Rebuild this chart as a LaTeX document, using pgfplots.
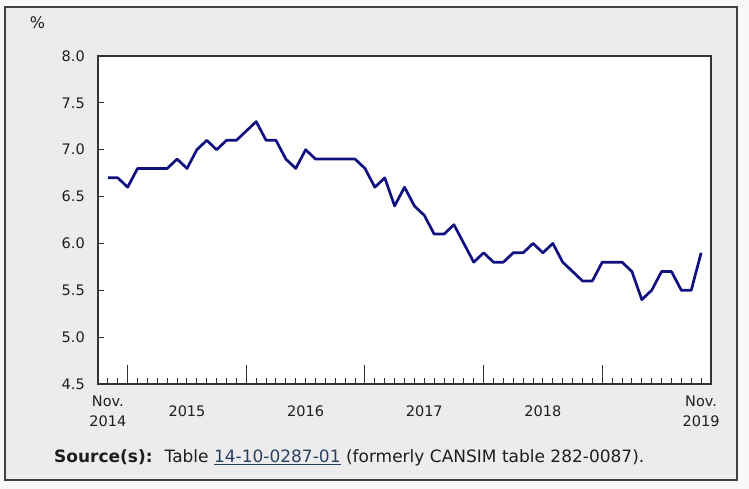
\documentclass[border=0pt]{standalone}
\usepackage{pgfplots}
\pgfplotsset{compat=1.18}
\usepackage{fontspec}
\setmainfont{DejaVu Sans}
\definecolor{navyline}{RGB}{16,16,128}
\definecolor{boxfill}{RGB}{236,236,236}
\definecolor{outerbg}{RGB}{248,248,248}
\definecolor{linkblue}{RGB}{40,65,98}
\definecolor{txt}{RGB}{30,30,30}
\begin{document}
\begin{tikzpicture}[x=1bp,y=1bp]
\fill[outerbg] (0,0) rectangle (749,489);
\draw[draw=black!75, line width=1.2bp, fill=boxfill] (5,9) rectangle (737,482);
\node[anchor=center, font=\fontsize{16bp}{18bp}\selectfont, text=txt] at (37.5,466) {\%};
\node[anchor=west, inner sep=0, font=\fontsize{17bp}{19bp}\selectfont, text=txt] at (54,31)
  {\textbf{Source(s):}\hspace{12bp}Table \textcolor{linkblue}{\underline{14-10-0287-01}} (formerly CANSIM table 282-0087).};
\begin{axis}[
  at={(98bp,105bp)}, anchor=south west,
  scale only axis, width=613bp, height=328bp,
  xmin=-1, xmax=61, ymin=4.5, ymax=8,
  axis background/.style={fill=white},
  axis line style={black!80, line width=1.2bp},
  ytick={4.5,5,5.5,6,6.5,7,7.5,8},
  ytick pos=left, xtick pos=bottom,
  tick align=inside,
  major tick length=6bp, minor tick length=6bp,
  tick style={black!80, line width=1bp},
  yticklabel style={anchor=east, inner sep=0, xshift=-13bp, font=\fontsize{14.5bp}{16bp}\selectfont, text=txt,
    /pgf/number format/.cd, fixed, fixed zerofill, precision=1, assume math mode=true},
  xtick={2,14,26,38,50},
  xticklabels={},
  xtick style={/pgfplots/major tick length=19bp},
  minor xtick={0,1,3,4,5,6,7,8,9,10,11,12,13,15,16,17,18,19,20,21,22,23,24,25,27,28,29,30,31,32,33,34,35,36,37,39,40,41,42,43,44,45,46,47,48,49,51,52,53,54,55,56,57,58,59,60},
  extra x ticks={0,8,20,32,44,60},
  extra x tick labels={Nov.\\2014,\mbox{}\\2015,\mbox{}\\2016,\mbox{}\\2017,\mbox{}\\2018,Nov.\\2019},
  extra x tick style={major tick length=0pt, tick style={draw=none},
    xticklabel style={anchor=north, inner sep=0, yshift=-12bp, align=center,
      font=\fontsize{14.5bp}{20bp}\selectfont, text=txt}},
  clip=false,
]
\addplot[navyline, line width=2.7bp, line join=round] coordinates {
(0,6.7)(1,6.7)(2,6.6)(3,6.8)(4,6.8)(5,6.8)(6,6.8)(7,6.9)(8,6.8)(9,7.0)
(10,7.1)(11,7.0)(12,7.1)(13,7.1)(14,7.2)(15,7.3)(16,7.1)(17,7.1)(18,6.9)(19,6.8)
(20,7.0)(21,6.9)(22,6.9)(23,6.9)(24,6.9)(25,6.9)(26,6.8)(27,6.6)(28,6.7)(29,6.4)
(30,6.6)(31,6.4)(32,6.3)(33,6.1)(34,6.1)(35,6.2)(36,6.0)(37,5.8)(38,5.9)(39,5.8)
(40,5.8)(41,5.9)(42,5.9)(43,6.0)(44,5.9)(45,6.0)(46,5.8)(47,5.7)(48,5.6)(49,5.6)
(50,5.8)(51,5.8)(52,5.8)(53,5.7)(54,5.4)(55,5.5)(56,5.7)(57,5.7)(58,5.5)(59,5.5)
(60,5.9)
};
\end{axis}
\end{tikzpicture}
\end{document}
